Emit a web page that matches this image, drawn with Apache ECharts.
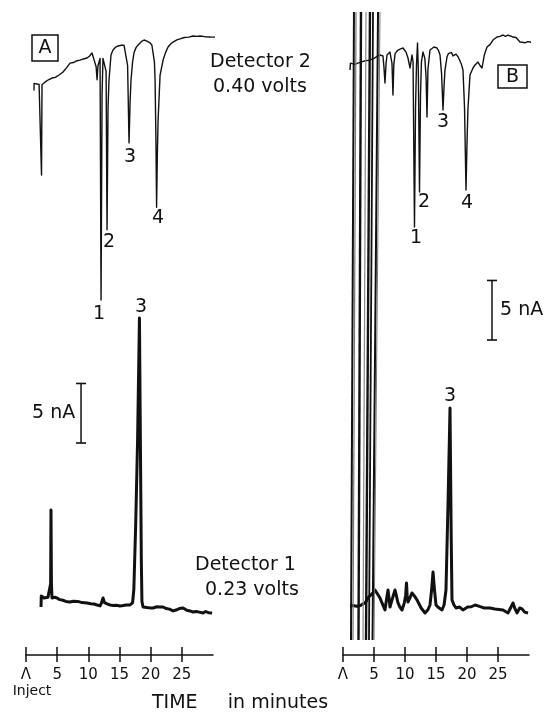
<!DOCTYPE html>
<html><head><meta charset="utf-8">
<script src="https://cdn.jsdelivr.net/npm/echarts@6/dist/echarts.min.js"></script>
<style>html,body{margin:0;padding:0;background:#fff}#c{width:544px;height:712px}</style>
</head><body><div id="c"></div>
<script>
// ---------- DATA (time in minutes, current in nA) ----------
const timeTicks = [0, 5, 10, 15, 20, 25];
const tickLabels = ['Λ', '5', '10', '15', '20', '25'];
const injectLabel = 'Inject';
const scaleBarNA = 5;

// Panel A, Detector 2 (0.40 V) – oxidation trace, peaks point downwards
const detector2A = [
[1.28,-4.6],[1.30,-4.0],[1.6,-3.9],[2.1,-4.1],[2.41,-4.05],[2.49,-11.7],[2.57,-4.1],[3.05,-3.9],[3.6,-3.7],[4.17,-3.55],
[4.7,-3.5],[5.3,-3.3],[5.94,-3.05],[6.5,-2.7],[7.06,-2.3],[7.6,-2.25],[8.2,-2.1],[8.67,-2.05],[9.2,-1.95],[9.79,-1.87],
[10.2,-1.7],[10.59,-1.45],[10.85,-1.9],[11.08,-1.95],[11.25,-2.6],[11.40,-3.7],[11.55,-2.5],[11.72,-2.2],[11.88,-1.9],
[12.04,-22.2],[12.2,-5],[12.35,-1.9],[12.6,-1.8],[12.85,-3],[13.0,-16.3],[13.16,-6],[13.32,-3.7],[13.64,-1.6],[13.96,-1.2],
[14.4,-0.95],[14.77,-0.86],[15.3,-0.8],[15.73,-0.8],[16.05,-0.95],[16.3,-2.5],[16.53,-9.0],[16.7,-5.5],[16.85,-3.7],
[17.1,-2.2],[17.34,-1.4],[17.65,-1.0],[17.98,-0.78],[18.5,-0.5],[18.94,-0.36],[19.4,-0.45],[19.90,-0.6],[20.2,-0.8],
[20.39,-0.95],[20.6,-2.2],[20.71,-3.7],[20.85,-9],[20.95,-14.4],[21.07,-10],[21.19,-7.1],[21.51,-3.3],[21.99,-2.04],
[22.4,-1.4],[22.79,-0.95],[23.2,-0.7],[23.6,-0.53],[24.2,-0.35],[24.72,-0.27],[25.4,-0.15],[26.1,-0.12],[26.8,-0.02],
[27.4,-0.05],[27.93,-0.02],[28.7,-0.08],[29.53,-0.11],[30.5,-0.12],[31.62,-0.19]
];

// Panel A, Detector 1 (0.23 V)
const detector1A = [
[2.41,0.03],[2.45,0.96],[2.89,0.79],[3.2,0.9],[3.53,0.85],[3.85,0.8],[3.95,2],[4.01,8.18],[4.08,2],[4.17,0.79],
[4.6,0.85],[4.98,0.79],[5.4,0.65],[5.78,0.62],[6.4,0.5],[7.06,0.45],[7.6,0.52],[8.3,0.5],[9.0,0.4],[9.79,0.37],
[10.4,0.3],[10.9,0.28],[11.4,0.2],[11.88,0.12],[12.1,0.35],[12.36,0.79],[12.6,0.4],[13.0,0.29],[13.5,0.2],[14.0,0.15],
[14.5,0.18],[15.09,0.12],[15.6,0.15],[16.1,0.2],[16.69,0.2],[17.1,0.4],[17.3,1.5],[17.6,7],[17.9,14],[18.2,24.3],
[18.35,14],[18.5,4],[18.6,0.5],[18.78,0.03],[19.4,-0.02],[20.0,-0.05],[20.39,-0.05],[21.0,0.05],[21.5,0.03],[21.99,0.03],
[22.5,-0.1],[23.0,-0.15],[23.6,-0.3],[24.2,-0.2],[24.6,-0.1],[25.2,-0.05],[25.8,-0.25],[26.3,-0.3],[26.8,-0.39],
[27.3,-0.35],[27.8,-0.4],[28.41,-0.47],[28.8,-0.35],[29.3,-0.45],[29.86,-0.47]
];

// Panel B, Detector 2
const detector2B = [
[1.13,-2.88],[1.2,-2.3],[1.5,-2.2],[1.9,-2.4],[2.4,-2.3],[3.0,-2.2],[3.6,-2.1],[4.3,-2.05],[5.0,-1.9],[5.6,-1.7],
[5.97,-1.62],[6.45,-1.7],[6.6,-2.6],[6.77,-3.97],[6.95,-2.3],[7.10,-1.62],[7.58,-1.37],[7.75,-1.9],[7.9,-2.3],[8.06,-4.98],
[8.2,-2.4],[8.4,-1.5],[8.87,-1.2],[9.3,-1.1],[9.68,-1.03],[10.16,-1.37],[10.48,-1.87],[10.81,-2.71],[11.13,-1.62],
[11.3,-2.2],[11.53,-16.06],[11.7,-6],[11.85,-2.5],[12.02,-0.61],[12.15,-3],[12.34,-13.12],[12.5,-5],[12.65,-2.2],
[12.90,-1.37],[13.2,-1.9],[13.4,-3.5],[13.55,-6.82],[13.7,-2.8],[14.03,-1.2],[14.68,-0.95],[15.16,-1.03],[15.45,-1.3],
[15.65,-1.62],[15.9,-3.2],[16.13,-6.24],[16.3,-4.2],[16.45,-2.88],[16.77,-1.79],[17.0,-1.5],[17.26,-1.62],[17.5,-1.4],
[17.74,-1.7],[18.23,-1.55],[18.6,-1.8],[18.87,-1.87],[19.1,-2.4],[19.35,-2.88],[19.6,-6],[19.84,-12.95],[20.0,-9],
[20.15,-6.2],[20.48,-3.3],[20.97,-2.71],[21.3,-2.45],[21.77,-2.21],[22.1,-2.5],[22.42,-2.71],[22.8,-1.6],[23.23,-0.95],
[23.7,-0.75],[24.19,-0.36],[24.5,-0.3],[24.84,-0.11],[25.3,-0.05],[25.81,0.06],[26.2,-0.05],[26.6,0.05],[27.0,-0.02],
[27.42,-0.11],[27.9,-0.15],[28.2,-0.15],[28.55,-0.53],[29.0,-0.55],[29.35,-0.6],[29.8,-0.5],[30.16,-0.53],[30.6,-0.6],
[30.97,-0.61]
];

// Panel B, Detector 1
const detector1B = [
[1.13,0.12],[1.6,0.15],[2.2,0.1],[2.8,0.15],[3.06,0.12],[3.6,0.4],[4.2,0.9],[4.84,1.21],[5.16,1.46],[5.48,1.3],
[5.97,0.79],[6.29,0.37],[6.77,-0.22],[7.0,0.6],[7.26,1.46],[7.42,0.8],[7.58,0.03],[8.0,0.8],[8.39,1.46],[8.6,1.0],
[8.87,0.37],[9.2,0.0],[9.52,-0.22],[9.9,0.4],[10.1,1.0],[10.24,2.05],[10.35,1.0],[10.48,0.45],[10.8,0.8],[11.13,1.21],
[11.6,0.9],[11.94,0.62],[12.6,-0.05],[13.23,-0.47],[13.7,-0.2],[14.03,0.2],[14.3,1.5],[14.52,2.97],[14.75,1.5],
[15.0,0.2],[15.3,0.03],[15.97,-0.22],[16.3,0.2],[16.61,1.46],[16.95,9],[17.26,16.74],[17.45,6],[17.58,0.62],[17.9,0.2],
[18.23,-0.05],[18.8,0.03],[19.35,-0.22],[20.1,0.03],[20.7,0.05],[21.3,0.2],[21.77,0.12],[22.7,-0.05],[23.71,-0.05],
[24.5,-0.13],[25.81,-0.22],[26.61,-0.47],[27.1,0.03],[27.42,0.37],[27.75,-0.13],[28.06,-0.47],[28.5,-0.05],
[28.87,-0.13],[29.3,-0.4],[29.84,-0.47]
];

// Panel B: off-scale pen excursions at the solvent front [time at top, time at bottom]
const penLinesB = [[1.77,1.29],[2.10,1.61],[2.90,2.50],[3.71,3.23],[4.35,3.71],[4.84,4.19],[5.65,4.76],[5.97,5.0]];
const penTopNA = 50.0, penBottomNA = -2.74;

// Peak labels (numbered peaks)
const peaksA2 = [['1',12.04],['2',13.0],['3',16.53],['4',20.95]];
const peaksA1 = [['3',18.2]];
const peaksB2 = [['1',11.53],['2',12.34],['3',16.13],['4',19.84]];
const peaksB1 = [['3',17.26]];

// ---------- LAYOUT / STYLE ----------
const FONT = 'DejaVu Sans';
const INK = '#111';
const scaleBarAt = { A: [8.83, 13.8], B: [24.03, 22.45] };   // [time, lower end nA]
const labelOffsets = {
  A2: [[-2,3.5],[2,2.5],[1,4.5],[1.5,0.5]],
  B2: [[1.5,1.5],[4.5,0.5],[0,2.5],[1,3.5]],
  A1: [[1.6,-0.5]],
  B1: [[0,-1.5]]
};
const penStyles = [
  ['#111',2],['#777',1.2],['#111',2.4],['#888',1.2],['#111',2.4],['#111',1.8],['#111',2],['#777',1]
];

const chart = echarts.init(document.getElementById('c'), null, {renderer:'canvas'});

function xAxes(gi, isA) {
  const common = {type:'value', gridIndex:gi, min:0, max:30, position:'bottom', offset:0,
    splitLine:{show:false}};
  return [
    Object.assign({}, common, {
      axisLine:{show:true, onZero:false, lineStyle:{color:INK, width:1.5}},
      axisTick:{show:true, inside:false, length:7, lineStyle:{color:INK, width:1.5}, customValues:timeTicks},
      axisLabel:{show:true, customValues:timeTicks, margin:12, color:INK, fontFamily:FONT, fontSize:15, lineHeight:16,
        rich:{inj:{fontFamily:FONT, fontSize:14, lineHeight:16, color:INK, padding:[0,0,0,12]}},
        formatter: function(v){
          const i = timeTicks.indexOf(v);
          const t = i >= 0 ? tickLabels[i] : '';
          return (v === 0 && isA) ? t + '\n{inj|' + injectLabel + '}' : t;
        }}
    }),
    Object.assign({}, common, {
      axisLine:{show:false, onZero:false},
      axisTick:{show:true, inside:true, length:8, lineStyle:{color:INK, width:1.5}, customValues:timeTicks},
      axisLabel:{show:false}
    })
  ];
}
function yAxes(gi) {
  return [
    {type:'value', gridIndex:gi, min:-4, max:51, show:false, splitLine:{show:false}},
    {type:'value', gridIndex:gi, min:-52, max:3, show:false, splitLine:{show:false}}
  ];
}
function trace(name, data, gi, yi, width) {
  return {type:'line', name:name, data:data, xAxisIndex:gi*2, yAxisIndex:gi*2+yi,
    showSymbol:false, symbol:'none', clip:false, silent:true,
    lineStyle:{color:INK, width:width, join:'round'}, z:3};
}
function nearest(trace, t) {
  let best = trace[0];
  for (const p of trace) if (Math.abs(p[0]-t) < Math.abs(best[0]-t)) best = p;
  return best;
}
function peakLabels(peaks, tr, gi, yi, pos, offs) {
  return {type:'scatter', xAxisIndex:gi*2, yAxisIndex:gi*2+yi, symbolSize:1, silent:true,
    itemStyle:{color:'rgba(0,0,0,0)', opacity:1}, clip:false,
    data: peaks.map(function(p, i){
      const pt = nearest(tr, p[1]);
      return {name:p[0], value:[pt[0], pt[1]], label:{offset:offs[i]}};
    }),
    label:{show:true, position:pos, distance:0, formatter:'{b}', color:INK, opacity:1,
      fontFamily:FONT, fontSize:19, lineHeight:19}};
}
function scaleBar(at, gi) {
  return {type:'line', xAxisIndex:gi*2, yAxisIndex:gi*2, clip:false, silent:true,
    data:[[at[0], at[1]], [at[0], at[1] + scaleBarNA]],
    symbol:'rect', symbolSize:[10,1.6], showSymbol:true, showAllSymbol:true,
    itemStyle:{color:INK}, lineStyle:{color:INK, width:1.5}};
}

const series = [
  trace('Detector 2 A', detector2A, 0, 1, 1.4),
  trace('Detector 1 A', detector1A, 0, 0, 3),
  trace('Detector 2 B', detector2B, 1, 1, 1.4),
  trace('Detector 1 B', detector1B, 1, 0, 3),
  scaleBar(scaleBarAt.A, 0),
  scaleBar(scaleBarAt.B, 1),
  peakLabels(peaksA2, detector2A, 0, 1, 'bottom', labelOffsets.A2),
  peakLabels(peaksA1, detector1A, 0, 0, 'top', labelOffsets.A1),
  peakLabels(peaksB2, detector2B, 1, 1, 'bottom', labelOffsets.B2),
  peakLabels(peaksB1, detector1B, 1, 0, 'top', labelOffsets.B1)
];
penLinesB.forEach(function(pl, i){
  series.push({type:'line', xAxisIndex:2, yAxisIndex:2, clip:false, silent:true, symbol:'none', showSymbol:false,
    data:[[pl[0], penTopNA], [pl[1], penBottomNA]],
    lineStyle:{color:penStyles[i][0], width:penStyles[i][1]}, z:4});
});

function txt(text, x, y, align, size) {
  return {type:'text', x:x, y:y, silent:true,
    style:{text:text, fill:INK, font:(size||19)+'px "'+FONT+'"', textAlign:align||'left', textVerticalAlign:'middle'}};
}

chart.setOption({
  animation:false,
  backgroundColor:'#fff',
  grid:[
    {left:26, width:187, top:0, height:655, outerBoundsMode:'none', containLabel:false},
    {left:343, width:186, top:0, height:655, outerBoundsMode:'none', containLabel:false}
  ],
  xAxis: xAxes(0, true).concat(xAxes(1, false)),
  yAxis: yAxes(0).concat(yAxes(1)),
  series: series,
  graphic: [
    {type:'rect', shape:{x:32, y:35, width:26, height:26}, style:{fill:'none', stroke:INK, lineWidth:1.5}},
    txt('A', 45, 48.5, 'center'),
    {type:'rect', shape:{x:498, y:65, width:29, height:23}, style:{fill:'none', stroke:INK, lineWidth:1.5}},
    txt('B', 512.5, 77, 'center'),
    txt('Detector 2', 210, 62.5),
    txt('0.40 volts', 213, 87.5),
    txt('Detector 1', 195, 565),
    txt('0.23 volts', 205, 590),
    txt('5 nA', 32, 413),
    txt('5 nA', 500, 310),
    txt('TIME     in minutes', 152, 703)
  ]
});
</script>
</body></html>
